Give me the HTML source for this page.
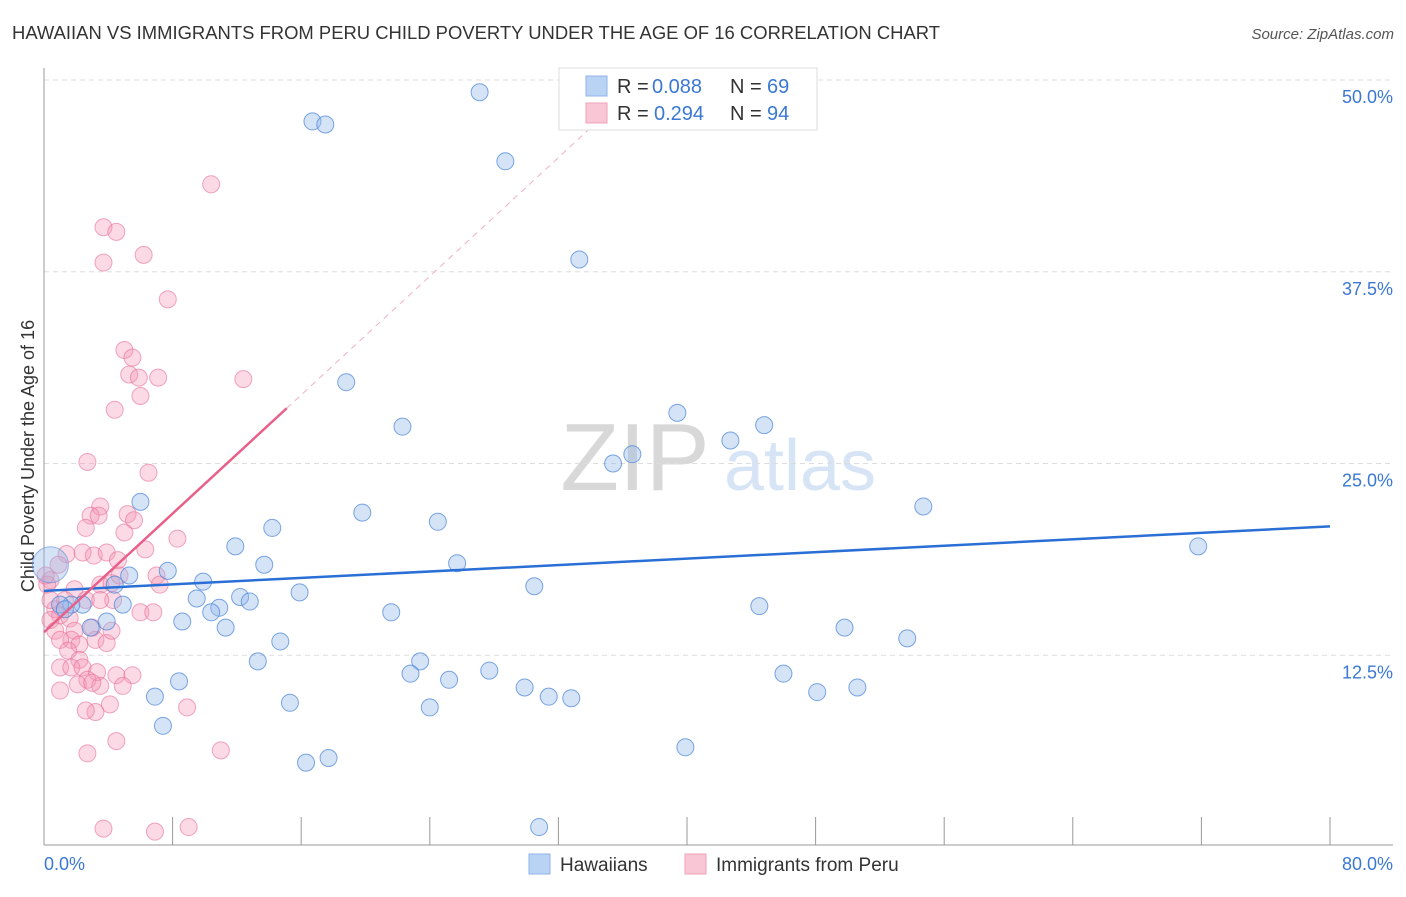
<!DOCTYPE html>
<html><head><meta charset="utf-8"><style>
body{margin:0;background:#fff;font-family:"Liberation Sans",sans-serif;}
svg text{font-family:"Liberation Sans",sans-serif;}
</style></head><body>
<svg id="chart" width="1406" height="892" xmlns="http://www.w3.org/2000/svg">
<text x="12" y="39" font-size="18" fill="#333" textLength="928" lengthAdjust="spacingAndGlyphs">HAWAIIAN VS IMMIGRANTS FROM PERU CHILD POVERTY UNDER THE AGE OF 16 CORRELATION CHART</text>
<text x="1394" y="39" font-size="15" fill="#555" text-anchor="end" font-style="italic">Source: ZipAtlas.com</text>
<text transform="translate(34,456) rotate(-90)" font-size="18" fill="#333" text-anchor="middle">Child Poverty Under the Age of 16</text>
<g>
<text x="635" y="490" font-size="96" fill="#d8d8d8" text-anchor="middle" font-family="Liberation Serif">ZIP</text>
<text x="800" y="490" font-size="72" fill="#d6e4f5" text-anchor="middle">atlas</text>
</g>
<g id="grid"></g><g id="axes"></g><g id="pts"></g><g id="trends"></g>
<g>
<rect x="559" y="68" width="258" height="62" fill="#fff" stroke="#ddd"/>
<rect x="586" y="76" width="21" height="20" fill="#b9d3f5" stroke="#8fb3e8"/>
<rect x="586" y="103" width="21" height="20" fill="#f9c6d5" stroke="#f0a0b8"/>
<text x="617" y="93" font-size="20" fill="#333">R =</text>
<text x="652" y="93" font-size="20" fill="#3a78d4">0.088</text>
<text x="730" y="93" font-size="20" fill="#333">N =</text>
<text x="767" y="93" font-size="20" fill="#3a78d4">69</text>
<text x="617" y="120" font-size="20" fill="#333">R =</text>
<text x="654" y="120" font-size="20" fill="#3a78d4">0.294</text>
<text x="730" y="120" font-size="20" fill="#333">N =</text>
<text x="767" y="120" font-size="20" fill="#3a78d4">94</text>
</g>
<g>
<rect x="529" y="854" width="21" height="20" fill="#b9d3f5" stroke="#8fb3e8"/>
<text x="560" y="871" font-size="19" fill="#333">Hawaiians</text>
<rect x="685" y="854" width="21" height="20" fill="#f9c6d5" stroke="#f0a0b8"/>
<text x="716" y="871" font-size="19" fill="#333">Immigrants from Peru</text>
</g>
</svg>
<script>
const blueX=[27.1,16.7,17.5,28.7,33.3,18.8,22.3,39.4,42.7,44.8,35.4,36.6,54.7,6.0,19.8,24.5,14.2,11.9,25.7,13.7,71.8,7.7,5.3,9.9,4.4,15.9,30.5,9.5,12.2,12.8,10.9,10.4,4.9,2.4,1.7,21.6,44.5,8.6,11.3,3.9,2.9,49.8,53.7,14.7,13.3,23.4,22.8,8.4,6.9,25.2,27.7,29.9,31.4,32.8,46.0,48.1,50.6,15.3,24.0,7.4,39.9,16.3,17.7,30.8,1.0,1.3];
const blueY=[49.2,47.3,47.1,44.7,38.3,30.3,27.4,28.3,26.5,27.5,25.0,25.6,22.2,22.5,21.8,21.2,20.8,19.6,18.5,18.4,19.6,18.0,17.7,17.3,17.1,16.6,17.0,16.2,16.3,16.0,15.6,15.3,15.8,15.8,15.8,15.3,15.7,14.7,14.3,14.7,14.3,14.3,13.6,13.4,12.1,12.1,11.3,10.8,9.8,10.9,11.5,10.4,9.8,9.7,11.3,10.1,10.4,9.4,9.1,7.9,6.5,5.5,5.8,1.3,15.8,15.5];
const pinkX=[10.4,3.7,4.5,3.7,6.2,7.7,5.0,5.5,5.3,5.9,7.1,12.4,4.4,6.0,6.5,2.7,3.5,2.9,3.4,2.6,5.2,5.6,8.3,5.0,6.3,1.4,0.9,2.4,3.1,3.9,4.6,7.0,7.2,3.5,4.2,1.9,4.7,0.4,0.2,1.3,0.7,1.0,0.4,1.6,0.7,1.9,1.7,2.2,3.0,3.2,3.9,4.3,4.2,6.0,6.8,2.2,1.0,1.7,2.4,3.3,4.5,5.5,2.7,2.1,1.0,3.5,3.0,4.9,3.2,2.6,4.1,8.9,2.7,4.5,11.0,3.7,6.9,9.0,0.1,0.4,1.0,1.5,2.6,3.5];
const pinkY=[43.2,40.4,40.1,38.1,38.6,35.7,32.4,31.9,30.8,30.6,30.6,30.5,28.5,29.4,24.4,25.1,22.2,21.6,21.6,20.8,21.7,21.3,20.1,20.5,19.4,19.1,18.4,19.2,19.0,19.2,18.7,17.7,17.1,17.1,17.2,16.8,17.7,17.4,17.1,16.1,15.5,15.1,14.8,14.9,14.1,14.1,13.5,13.2,14.3,13.5,13.3,16.1,14.1,15.3,15.3,12.2,11.7,11.7,11.7,11.4,11.2,11.2,10.9,10.6,10.2,10.5,10.7,10.5,8.8,8.9,9.3,9.1,6.1,6.9,6.3,1.2,1.0,1.3,17.7,16.1,13.5,12.8,16.1,16.1];
const yTicks=[12.5,25.0,37.5,50.0];
const xTicks=[0,8,16,24,32,40,48,56,64,72,80];
const blueTrend=[16.7,20.9];
const pinkTrend=[14.0,0.967];
const NS="http://www.w3.org/2000/svg";
const sx=v=>44+v/80*1286;
const sy=v=>847-v/50*767;
function mk(tag,attrs,parent){const e=document.createElementNS(NS,tag);for(const k in attrs)e.setAttribute(k,attrs[k]);document.getElementById(parent).appendChild(e);return e;}
yTicks.forEach(t=>{
  const l=mk('line',{x1:44,x2:1393,y1:sy(t),y2:sy(t),stroke:'#ddd','stroke-dasharray':'5,4'},'grid');
  
  
  const tx=mk('text',{x:1393,y:sy(t)+23,'font-size':18,fill:'#3a78d4','text-anchor':'end'},'grid');
  tx.textContent=t.toFixed(1)+'%';
  
  
});
const ya=mk('line',{x1:44,x2:44,y1:68,y2:845,stroke:'#999'},'axes');


const xa=mk('line',{x1:44,x2:1393,y1:845,y2:845,stroke:'#999'},'axes');


xTicks.forEach(t=>{
  const l=mk('line',{x1:sx(t),x2:sx(t),y1:817,y2:845,stroke:'#999'},'axes');
  
  
});
[[0,'start'],[80,'end']].forEach(([t,a])=>{
  const tx=mk('text',{x:t===0?44:1393,y:870,'font-size':18,fill:'#3a78d4','text-anchor':a},'axes');
  tx.textContent=t.toFixed(1)+'%';
  
  
});
pinkX.forEach((x,i)=>{
  const c=mk('circle',{cx:sx(x),cy:sy(pinkY[i]),r:8.5,fill:'rgba(244,150,180,0.35)',stroke:'rgba(232,110,150,0.6)'},'pts');
  
  
});
const big=mk('circle',{cx:sx(0.4),cy:sy(18.4),r:18,fill:'rgba(150,185,235,0.4)',stroke:'rgba(90,140,220,0.6)'},'pts');


blueX.forEach((x,i)=>{
  const c=mk('circle',{cx:sx(x),cy:sy(blueY[i]),r:8.5,fill:'rgba(150,185,235,0.4)',stroke:'rgba(70,130,215,0.7)'},'pts');
  
  
});
const bt=mk('line',{x1:sx(0),y1:sy(blueTrend[0]),x2:sx(80),y2:sy(blueTrend[1]),stroke:'#2a6fd6','stroke-width':2.5},'trends');


const pt=mk('line',{x1:sx(0),y1:sy(pinkTrend[0]),x2:sx(15.1),y2:sy(pinkTrend[0]+pinkTrend[1]*15.1),stroke:'#e8608a','stroke-width':2.5},'trends');


const pd=mk('line',{x1:sx(15.1),y1:sy(pinkTrend[0]+pinkTrend[1]*15.1),x2:sx(34.6),y2:sy(pinkTrend[0]+pinkTrend[1]*34.6),stroke:'#f0b0c4','stroke-width':1,'stroke-dasharray':'6,5'},'trends');


</script>
</body></html>
